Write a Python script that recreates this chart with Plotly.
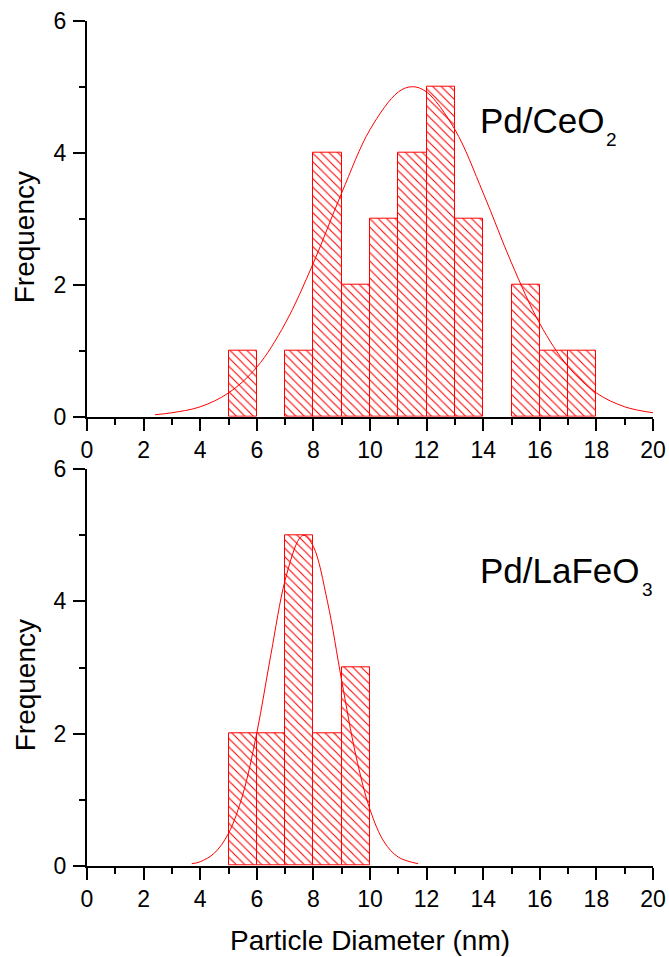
import plotly.graph_objects as go

# ---------------- data ----------------
# Pd/CeO2 histogram (bin left edges, bin width 1 nm)
ceo2_bin_left = [5, 7, 8, 9, 10, 11, 12, 13, 15, 16, 17]
ceo2_counts = [1, 1, 4, 2, 3, 4, 5, 3, 2, 1, 1]
# Gaussian fit curve
ceo2_fit_x = [2.4, 3, 4, 5, 6, 7, 8, 9, 10, 11, 11.5, 12, 13, 14, 15, 16, 17, 18, 19, 20]
ceo2_fit_y = [0.03, 0.06, 0.15, 0.36, 0.75, 1.41, 2.33, 3.39, 4.35, 4.92, 5.0, 4.92,
              4.35, 3.39, 2.33, 1.41, 0.76, 0.36, 0.15, 0.06]

# Pd/LaFeO3 histogram
lafeo3_bin_left = [5, 6, 7, 8, 9]
lafeo3_counts = [2, 2, 5, 2, 3]
lafeo3_fit_x = [3.7, 4, 4.5, 5, 5.5, 6, 6.5, 7, 7.5, 7.67, 8, 8.5, 9, 9.5, 10, 10.5, 11, 11.7]
lafeo3_fit_y = [0.03, 0.06, 0.19, 0.49, 1.07, 2.01, 3.2, 4.32, 4.95, 5.0, 4.83, 3.99,
                2.8, 1.67, 0.85, 0.36, 0.13, 0.03]

x_ticks = [0, 2, 4, 6, 8, 10, 12, 14, 16, 18, 20]
y_ticks = [0, 2, 4, 6]

# ---------------- figure ----------------
W, H = 669, 957
RED = "rgb(255,0,0)"
FONT = "Liberation Sans, Arial, sans-serif"

fig = go.Figure()

bar_marker = dict(
    color="white",
    line=dict(color=RED, width=1),
    pattern=dict(shape="\\", fgcolor=RED, bgcolor="white", size=6, solidity=0.18, fillmode="replace"),
)

fig.add_trace(go.Bar(x=ceo2_bin_left, y=ceo2_counts, width=1, offset=0, marker=bar_marker,
                     xaxis="x", yaxis="y", showlegend=False))
fig.add_trace(go.Scatter(x=ceo2_fit_x, y=ceo2_fit_y, mode="lines", line=dict(color=RED, width=1, shape="spline"),
                         xaxis="x", yaxis="y", showlegend=False))
fig.add_trace(go.Bar(x=lafeo3_bin_left, y=lafeo3_counts, width=1, offset=0, marker=bar_marker,
                     xaxis="x2", yaxis="y2", showlegend=False))
fig.add_trace(go.Scatter(x=lafeo3_fit_x, y=lafeo3_fit_y, mode="lines", line=dict(color=RED, width=1, shape="spline"),
                         xaxis="x2", yaxis="y2", showlegend=False))


def px_x(p):
    return p / W


def px_y(p):
    return 1 - p / H


xdom = [px_x(87), px_x(653)]
top_dom = [px_y(416.7), px_y(20.7)]
bot_dom = [px_y(865.7), px_y(469.3)]

axis_common = dict(
    showline=True, linecolor="black", linewidth=2, mirror=False,
    ticks="outside", ticklen=12, tickwidth=2, tickcolor="black",
    showgrid=False, zeroline=False, automargin=False,
    tickfont=dict(family=FONT, size=23, color="black"),
)

xaxis_common = dict(axis_common, range=[0, 20], tickvals=x_ticks,
                    minor=dict(dtick=1, tick0=0, ticks="outside", ticklen=6, tickwidth=2, tickcolor="black"))
yaxis_common = dict(axis_common, range=[0, 6], tickvals=y_ticks, ticklabelstandoff=2,
                    minor=dict(dtick=1, tick0=0, ticks="outside", ticklen=6, tickwidth=2, tickcolor="black"))

fig.update_layout(
    width=W, height=H,
    margin=dict(l=0, r=0, t=0, b=0, autoexpand=False),
    paper_bgcolor="white", plot_bgcolor="white",
    bargap=0,
    xaxis=dict(xaxis_common, domain=xdom, anchor="y"),
    yaxis=dict(yaxis_common, domain=top_dom, anchor="x"),
    xaxis2=dict(xaxis_common, domain=xdom, anchor="y2"),
    yaxis2=dict(yaxis_common, domain=bot_dom, anchor="x2"),
)

ann = []
# axis titles
for yc in (237, 685):
    ann.append(dict(text="Frequency", textangle=-90, xref="paper", yref="paper",
                    x=px_x(25.3), y=px_y(yc), xanchor="center", yanchor="middle",
                    showarrow=False, font=dict(family=FONT, size=28, color="black")))
ann.append(dict(text="Particle Diameter (nm)", xref="paper", yref="paper",
                x=px_x(370), y=px_y(940.3), xanchor="center", yanchor="middle",
                showarrow=False, font=dict(family=FONT, size=28, color="black")))

# sample labels (main text + subscript)
ann.append(dict(text="Pd/CeO", xref="paper", yref="paper", x=px_x(478), y=px_y(120.5),
                xanchor="left", yanchor="middle", showarrow=False,
                font=dict(family=FONT, size=35, color="black")))
ann.append(dict(text="2", xref="paper", yref="paper", x=px_x(603.5), y=px_y(139.5),
                xanchor="left", yanchor="middle", showarrow=False,
                font=dict(family=FONT, size=19, color="black")))
ann.append(dict(text="Pd/LaFeO", xref="paper", yref="paper", x=px_x(478), y=px_y(570.5),
                xanchor="left", yanchor="middle", showarrow=False,
                font=dict(family=FONT, size=35, color="black")))
ann.append(dict(text="3", xref="paper", yref="paper", x=px_x(639.5), y=px_y(589.5),
                xanchor="left", yanchor="middle", showarrow=False,
                font=dict(family=FONT, size=19, color="black")))

fig.update_layout(annotations=ann)

fig.write_html("out.html")
